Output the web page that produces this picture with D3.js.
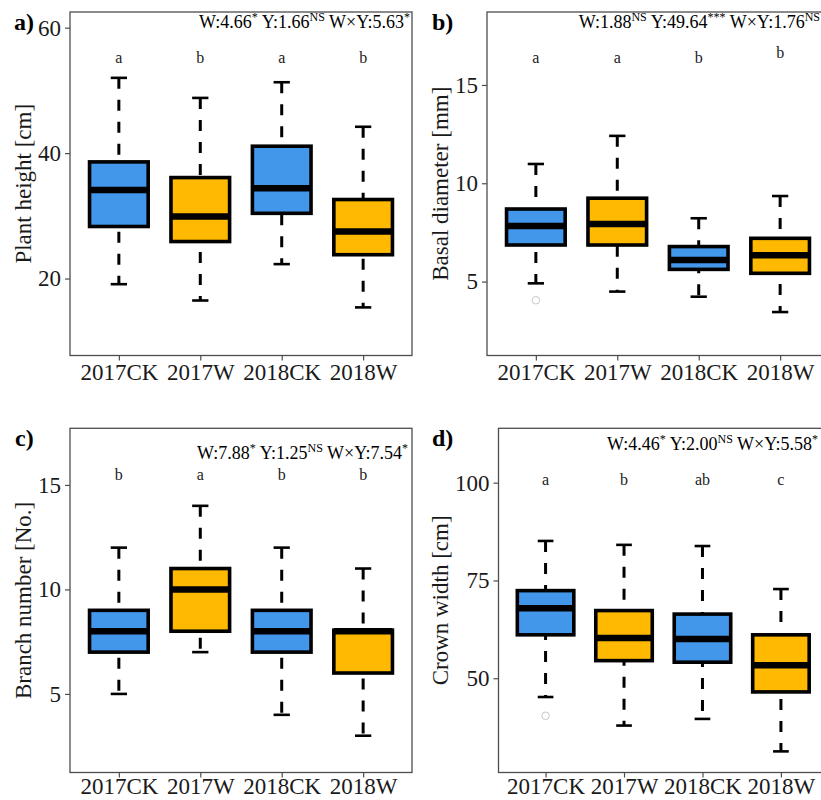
<!DOCTYPE html>
<html lang="en">
<head>
  <meta charset="utf-8">
  <title>Boxplots</title>
  <script src="https://d3js.org/d3.v7.min.js"></script>
</head>
<style>
  body { margin: 0; background: #fff; }
  text { font-family: "Liberation Serif", "Times New Roman", serif; }
</style>
<body>
<script>
// groups shared by all four panels
var groups = ["2017CK", "2017W", "2018CK", "2018W"];
var fills = ["#4397eb", "#ffb900", "#4397eb", "#ffb900"];

// a) plant height
var aLow = [19.1, 16.5, 22.3, 15.4];
var aQ1 = [28.3, 25.9, 30.4, 23.8];
var aMed = [34.1, 29.9, 34.4, 27.5];
var aQ3 = [38.6, 36.1, 41.1, 32.6];
var aHigh = [52.0, 48.8, 51.3, 44.2];
var aOut = [[], [], [], []];
var aLetters = ["a", "b", "a", "b"];
var aStats = [["W:4.66", "*"], [" Y:1.66", "NS"], [" W\u00d7Y:5.63", "*"]];

// b) basal diameter
var bLow = [4.91, 4.49, 4.23, 3.45];
var bQ1 = [6.86, 6.86, 5.62, 5.42];
var bMed = [7.83, 7.93, 6.10, 6.34];
var bQ3 = [8.69, 9.24, 6.78, 7.20];
var bHigh = [10.98, 12.41, 8.22, 9.35];
var bOut = [[4.05], [], [], []];
var bLetters = ["a", "a", "b", "b"];
var bStats = [["W:1.88", "NS"], [" Y:49.64", "***"], [" W\u00d7Y:1.76", "NS"]];

// c) branch number
var cLow = [5, 7, 4, 3];
var cQ1 = [7, 8, 7, 6];
var cMed = [8, 10, 8, 8];
var cQ3 = [9, 11, 9, 8.05];
var cHigh = [12, 14, 12, 11];
var cOut = [[], [], [], []];
var cLetters = ["b", "a", "b", "b"];
var cStats = [["W:7.88", "*"], [" Y:1.25", "NS"], [" W\u00d7Y:7.54", "*"]];

// d) crown width
var dLow = [45.2, 37.9, 39.6, 31.3];
var dQ1 = [61.1, 54.5, 54.1, 46.5];
var dMed = [67.9, 60.3, 60.0, 53.3];
var dQ3 = [72.4, 67.3, 66.4, 61.1];
var dHigh = [85.1, 84.1, 83.8, 72.8];
var dOut = [[40.4], [], [], []];
var dLetters = ["a", "b", "ab", "c"];
var dStats = [["W:4.46", "*"], [" Y:2.00", "NS"], [" W\u00d7Y:5.58", "*"]];

var panels = [
  { tag: "a)", title: "Plant height [cm]", x0: 70, x1: 412, y0: 12, y1: 355.5,
    domain: [7.73, 62.5], ticks: [20, 40, 60], letterY: [55.3, 55.3, 55.3, 55.3],
    statX: 410, statY: 28, tagX: 14, tagY: 30, titleX: 23, xPad: 3,
    low: aLow, q1: aQ1, med: aMed, q3: aQ3, high: aHigh, out: aOut, letters: aLetters, stats: aStats },
  { tag: "b)", title: "Basal diameter [mm]", x0: 487, x1: 829, y0: 12, y1: 355.5,
    domain: [1.24, 18.71], ticks: [5, 10, 15], letterY: [16.41, 16.41, 16.41, 16.67],
    statX: 820, statY: 28, tagX: 432, tagY: 30, titleX: 440, xPad: 3,
    low: bLow, q1: bQ1, med: bMed, q3: bQ3, high: bHigh, out: bOut, letters: bLetters, stats: bStats },
  { tag: "c)", title: "Branch number [No.]", x0: 70, x1: 412, y0: 428.3, y1: 772.5,
    domain: [1.24, 17.71], ticks: [5, 10, 15], letterY: [15.48, 15.48, 15.48, 15.48],
    statX: 408, statY: 459, tagX: 15, tagY: 446, titleX: 23, xPad: 0,
    low: cLow, q1: cQ1, med: cMed, q3: cQ3, high: cHigh, out: cOut, letters: cLetters, stats: cStats },
  { tag: "d)", title: "Crown width [cm]", x0: 498.5, x1: 828, y0: 428.3, y1: 772.5,
    domain: [25.9, 113.9], ticks: [50, 75, 100], letterY: [100.8, 100.8, 100.8, 100.8],
    statX: 818, statY: 450, tagX: 432, tagY: 446, titleX: 440, xPad: 0,
    low: dLow, q1: dQ1, med: dMed, q3: dQ3, high: dHigh, out: dOut, letters: dLetters, stats: dStats }
];

var svg = d3.select("body").append("svg")
  .attr("width", 821)
  .attr("height", 800);

panels.forEach(function(p) {
  var x = d3.scalePoint().domain(groups).range([p.x0, p.x1]).padding(0.6);
  var y = d3.scaleLinear().domain(p.domain).range([p.y1, p.y0]);
  var step = x.step();
  var boxW = step * 0.72;
  var capW = step * 0.2;
  var g = svg.append("g");

  // y axis
  var ya = g.append("g")
    .attr("transform", "translate(" + p.x0 + ",0)")
    .call(d3.axisLeft(y).tickValues(p.ticks).tickSize(5).tickPadding(4));
  ya.select(".domain").remove();
  ya.selectAll("line").attr("stroke", "#4d4d4d").attr("stroke-width", 1.2);
  ya.selectAll("text").attr("font-size", 23).attr("fill", "#1a1a1a");

  // x axis
  var xa = g.append("g")
    .attr("transform", "translate(0," + p.y1 + ")")
    .call(d3.axisBottom(x).tickSize(5).tickPadding(p.xPad));
  xa.select(".domain").remove();
  xa.selectAll("line").attr("stroke", "#4d4d4d").attr("stroke-width", 1.2);
  xa.selectAll("text").attr("font-size", 23).attr("fill", "#1a1a1a");

  // boxes
  groups.forEach(function(grp, i) {
    var cx = x(grp);
    g.append("line")
      .attr("x1", cx).attr("x2", cx)
      .attr("y1", y(p.high[i])).attr("y2", y(p.low[i]))
      .attr("stroke", "#000").attr("stroke-width", 3)
      .attr("stroke-dasharray", "11,11");
    [p.high[i], p.low[i]].forEach(function(v) {
      g.append("line")
        .attr("x1", cx - capW / 2).attr("x2", cx + capW / 2)
        .attr("y1", y(v)).attr("y2", y(v))
        .attr("stroke", "#000").attr("stroke-width", 2.6);
    });
    g.append("rect")
      .attr("x", cx - boxW / 2).attr("width", boxW)
      .attr("y", y(p.q3[i])).attr("height", y(p.q1[i]) - y(p.q3[i]))
      .attr("fill", fills[i]).attr("stroke", "#000").attr("stroke-width", 3.6);
    g.append("line")
      .attr("x1", cx - boxW / 2).attr("x2", cx + boxW / 2)
      .attr("y1", y(p.med[i])).attr("y2", y(p.med[i]))
      .attr("stroke", "#000").attr("stroke-width", 6.5);
    p.out[i].forEach(function(v) {
      g.append("circle")
        .attr("cx", cx).attr("cy", y(v)).attr("r", 3.8)
        .attr("fill", "none").attr("stroke", "#c8c8c8").attr("stroke-width", 1);
    });
    g.append("text")
      .attr("x", cx).attr("y", y(p.letterY[i]))
      .attr("text-anchor", "middle").attr("dominant-baseline", "central")
      .attr("font-size", 16).attr("fill", "#1a1a1a")
      .text(p.letters[i]);
  });

  // panel frame
  g.append("rect")
    .attr("x", p.x0).attr("y", p.y0)
    .attr("width", p.x1 - p.x0).attr("height", p.y1 - p.y0)
    .attr("fill", "none").attr("stroke", "#4d4d4d").attr("stroke-width", 1.3);

  // statistics line (y is the baseline)
  var st = g.append("text")
    .attr("x", p.statX).attr("y", p.statY)
    .attr("text-anchor", "end")
    .attr("font-size", 18).attr("fill", "#000");
  p.stats.forEach(function(s) {
    st.append("tspan").text(s[0]);
    st.append("tspan").attr("font-size", 12).attr("baseline-shift", "super").text(s[1]);
  });

  // panel tag
  g.append("text")
    .attr("x", p.tagX).attr("y", p.tagY)
    .attr("font-size", 24).attr("font-weight", "bold")
    .text(p.tag);

  // y title
  g.append("text")
    .attr("transform", "translate(" + p.titleX + "," + ((p.y0 + p.y1) / 2) + ") rotate(-90)")
    .attr("text-anchor", "middle").attr("dominant-baseline", "central")
    .attr("font-size", 23).attr("fill", "#1a1a1a")
    .text(p.title);
});
</script>
</body>
</html>
